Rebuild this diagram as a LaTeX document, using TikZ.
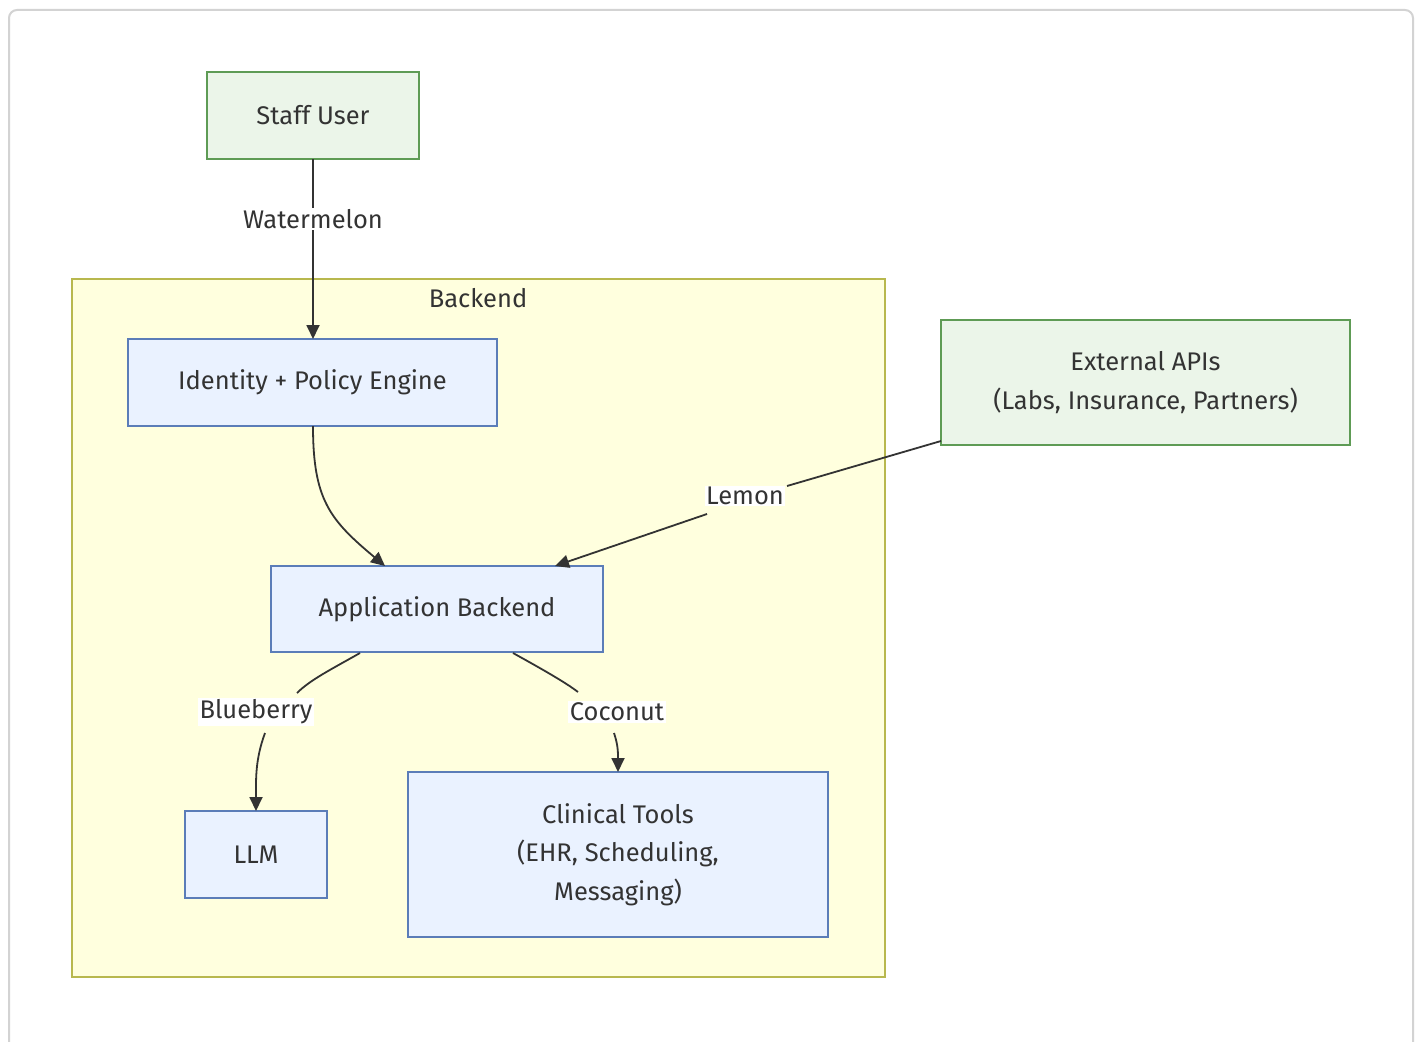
\documentclass[tikz,border=0pt]{standalone}
\usepackage{fontspec}
\setmainfont{Fira Sans}
\usetikzlibrary{arrows.meta}
\definecolor{txt}{HTML}{333333}
\definecolor{gfill}{HTML}{EBF5E9}
\definecolor{gline}{HTML}{5E9B55}
\definecolor{bfill}{HTML}{EAF2FF}
\definecolor{bline}{HTML}{5B7DB8}
\definecolor{cfill}{HTML}{FFFFDE}
\definecolor{cline}{HTML}{B8B84E}
\definecolor{frame}{HTML}{D3D3D3}
\tikzset{
  every node/.style={font=\fontsize{25.5}{38.5}\selectfont, text=txt},
  gbox/.style={draw=gline, fill=gfill, line width=1.3pt, inner sep=0pt, align=center},
  bbox/.style={draw=bline, fill=bfill, line width=1.3pt, inner sep=0pt, align=center},
  edge/.style={draw=txt, line width=1.8pt, -{Triangle[length=14pt,width=13pt]}},
  plain/.style={draw=txt, line width=1.8pt},
  elabel/.style={fill=white, inner sep=1.5pt}
}
\begin{document}
\begin{tikzpicture}[x=1pt,y=-1pt]
\useasboundingbox (0,0) rectangle (1418,1041);
\clip (0,0) rectangle (1418,1041);
\fill[white] (0,0) rectangle (1418,1041);
\draw[frame, line width=2pt, rounded corners=8pt] (9,1080) -- (9,10) -- (1413,10) -- (1413,1080);
% cluster
\draw[cline, fill=cfill, line width=1.5pt] (72,279) rectangle (885,977);
\node (bk) at (478,298) {Backend};
% nodes
\node[gbox, minimum width=212pt, minimum height=87pt] (su) at (313,115.5) {Staff User};
\node[bbox, minimum width=369pt, minimum height=87pt] (id) at (312.5,382.5) {Identity + Policy Engine};
\node[bbox, minimum width=332pt, minimum height=86pt] (ab) at (437,609) {Application Backend};
\node[bbox, minimum width=142pt, minimum height=87pt] (llm) at (256,854.5) {LLM};
\node[bbox, minimum width=420pt, minimum height=165pt] (ct) at (618,854.5) {Clinical Tools\\(EHR, Scheduling,\\Messaging)};
\node[gbox, minimum width=409pt, minimum height=125pt] (ex) at (1145.5,382.5) {External APIs\\(Labs, Insurance, Partners)};
% edge labels
\node[elabel] (lw) at (313,219) {Watermelon};
\node[elabel] (ll) at (745,496) {Lemon};
\node[elabel] (lb) at (256,712) {Blueberry};
\node[elabel] (lc) at (617,712) {Coconut};
% edges
\coordinate (suS) at (313,159);
\coordinate (idN) at (313,339);
\draw[plain] (suS) -- (lw.north);
\draw[edge] (lw.south) -- (idN);
\coordinate (idS) at (313,426);
\coordinate (abN1) at (385,566);
\draw[edge] (idS) .. controls (313,500) and (330,520) .. (abN1);
\coordinate (exW) at (941,441);
\coordinate (abN2) at (555,566);
\draw[plain] (exW) -- (787,486);
\draw[edge] (707,514) -- (abN2);
\coordinate (abS1) at (360,653);
\coordinate (llmN) at (256,811);
\draw[plain] (abS1) .. controls (330,670) and (310,680) .. (297,693);
\draw[edge] (265,733) .. controls (255,760) and (256,780) .. (llmN);
\coordinate (abS2) at (513,653);
\coordinate (ctN) at (618,772);
\draw[plain] (abS2) .. controls (540,668) and (565,682) .. (578,692);
\draw[edge] (614,733) .. controls (618,745) and (618,752) .. (ctN);
\end{tikzpicture}
\end{document}
